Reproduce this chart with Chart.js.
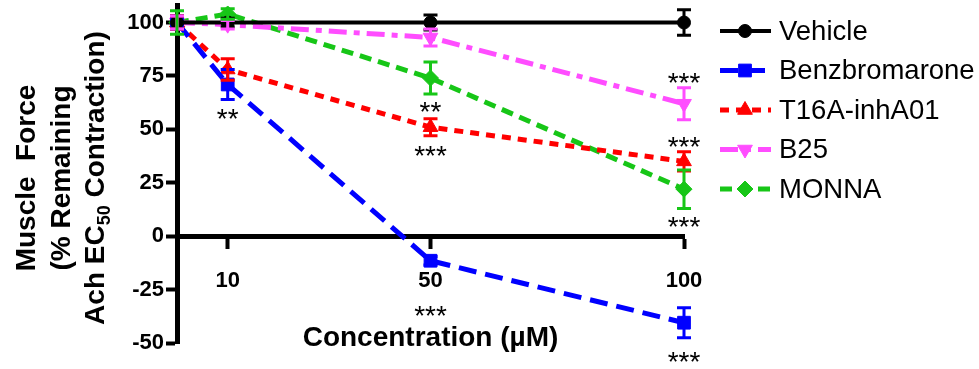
<!DOCTYPE html>
<html>
<head>
<meta charset="utf-8">
<script src="https://cdn.jsdelivr.net/npm/chart.js@4.4.1/dist/chart.umd.min.js"></script>
<style>
  html, body { margin: 0; padding: 0; background: #fff; }
</style>
</head>
<body>
<canvas id="myChart" width="979" height="369"></canvas>
<script>
// concentrations (uM) and tick values
const concentrations = [0, 10, 50, 100];
const xTicks = [10, 50, 100];
const yTicks = [-50, -25, 0, 25, 50, 75, 100];

// % remaining force, mean and error
const vehicle = [100, 100, 100, 100];
const vehicleErr = [3, 2, 3.5, 6];
const benzbromarone = [100, 71, -11.5, -40.5];
const benzbromaroneErr = [3, 7, 2, 7];
const t16a = [100, 78, 51, 35];
const t16aErr = [3, 5, 4, 4.5];
const b25 = [100, 99, 93, 62];
const b25Err = [3, 2, 4, 7.5];
const monna = [100, 104, 74, 22];
const monnaErr = [5.5, 2.5, 7.5, 9];

// significance marks
const starX = [10, 50, 50, 50, 100, 100, 100, 100];
const starY = [57, 60.5, 40, -35, 74, 44, 6.5, -56.5];
const starText = ['**', '**', '***', '***', '***', '***', '***', '***'];

const FONT = 'Liberation Sans, Arial, sans-serif';

function pts(values) {
  return concentrations.map((x, i) => ({ x: x, y: values[i] }));
}

function makeSet(label, values, errs, color, dash, style, radius, rot, width) {
  return {
    label: label,
    data: pts(values),
    errors: errs,
    borderColor: color,
    backgroundColor: color,
    borderWidth: width,
    borderDash: dash,
    pointStyle: style,
    pointRadius: radius,
    pointRotation: rot,
    pointBorderWidth: 1,
    tension: 0,
    clip: false
  };
}

const datasets = [
  makeSet('Vehicle', vehicle, vehicleErr, '#000000', [], 'circle', 6.5, 0, 4),
  makeSet('Benzbromarone', benzbromarone, benzbromaroneErr, '#0000ff', [18, 9], 'rect', 9, 0, 5),
  makeSet('T16A-inhA01', t16a, t16aErr, '#ff0000', [9, 7], 'triangle', 8.5, 0, 5),
  makeSet('B25', b25, b25Err, '#ff4dff', [18, 7, 6, 7], 'triangle', 8.5, 180, 5),
  makeSet('MONNA', monna, monnaErr, '#17c617', [12, 7], 'rectRot', 8, 0, 5)
];

const errorBars = {
  id: 'errorBars',
  afterDatasetsDraw(chart) {
    const ctx = chart.ctx;
    const xs = chart.scales.x, ys = chart.scales.y;
    chart.data.datasets.forEach(ds => {
      ctx.save();
      ctx.strokeStyle = ds.borderColor;
      ctx.lineWidth = 3;
      ds.data.forEach((p, i) => {
        const e = ds.errors[i];
        const px = xs.getPixelForValue(p.x);
        const top = ys.getPixelForValue(p.y + e);
        const bot = ys.getPixelForValue(p.y - e);
        ctx.beginPath();
        ctx.moveTo(px, top); ctx.lineTo(px, bot);
        ctx.moveTo(px - 7, top); ctx.lineTo(px + 7, top);
        ctx.moveTo(px - 7, bot); ctx.lineTo(px + 7, bot);
        ctx.stroke();
      });
      ctx.restore();
    });
  }
};

const extras = {
  id: 'extras',
  afterDraw(chart) {
    const ctx = chart.ctx;
    const xs = chart.scales.x, ys = chart.scales.y;
    const area = chart.chartArea;

    // stars
    ctx.save();
    ctx.fillStyle = '#000';
    ctx.font = '28px ' + FONT;
    ctx.textAlign = 'center';
    ctx.textBaseline = 'alphabetic';
    starX.forEach((x, i) => {
      ctx.fillText(starText[i], xs.getPixelForValue(x), ys.getPixelForValue(starY[i]) + 14);
    });
    ctx.restore();

    // x title
    ctx.save();
    ctx.fillStyle = '#000';
    ctx.font = 'bold 28px ' + FONT;
    ctx.textAlign = 'center';
    ctx.textBaseline = 'middle';
    ctx.fillText('Concentration (\u00b5M)', (area.left + area.right) / 2, 338);
    ctx.restore();

    // y title, three rotated lines, subscript in the last one
    ctx.save();
    ctx.fillStyle = '#000';
    ctx.textBaseline = 'alphabetic';
    const cy = 178;
    const big = 'bold 28px ' + FONT, small = 'bold 18px ' + FONT;
    [['Muscle  Force', 35], ['(% Remaining', 70]].forEach(([t, bx]) => {
      ctx.save();
      ctx.translate(bx, cy);
      ctx.rotate(-Math.PI / 2);
      ctx.font = big;
      ctx.textAlign = 'center';
      ctx.fillText(t, 0, 0);
      ctx.restore();
    });
    ctx.save();
    ctx.translate(104, cy);
    ctx.rotate(-Math.PI / 2);
    ctx.font = big;
    const a = 'Ach EC', c = ' Contraction)';
    const wa = ctx.measureText(a).width, wc = ctx.measureText(c).width;
    ctx.font = small;
    const wb = ctx.measureText('50').width;
    let x0 = -(wa + wb + wc) / 2;
    ctx.textAlign = 'left';
    ctx.font = big;
    ctx.fillText(a, x0, 0);
    ctx.font = small;
    ctx.fillText('50', x0 + wa, 6);
    ctx.font = big;
    ctx.fillText(c, x0 + wa + wb, 0);
    ctx.restore();
    ctx.restore();

    // legend: line sample with marker
    chart.data.datasets.forEach((ds, i) => {
      const ly = 31 + i * 39.5;
      ctx.save();
      ctx.strokeStyle = ds.borderColor;
      ctx.fillStyle = ds.borderColor;
      ctx.lineWidth = ds.borderWidth;
      ctx.setLineDash(ds.borderDash);
      ctx.beginPath();
      ctx.moveTo(720, ly); ctx.lineTo(771, ly);
      ctx.stroke();
      ctx.setLineDash([]);
      ctx.lineWidth = 1;
      Chart.helpers.drawPoint(ctx, {
        pointStyle: ds.pointStyle, radius: ds.pointRadius,
        rotation: ds.pointRotation, borderWidth: 1
      }, 745, ly);
      ctx.fillStyle = '#000';
      ctx.font = '27.5px ' + FONT;
      ctx.textAlign = 'left';
      ctx.textBaseline = 'middle';
      ctx.fillText(ds.label, 779, ly + 1);
      ctx.restore();
    });
  }
};

const config = {
  type: 'line',
  data: { datasets: datasets },
  options: {
    responsive: false,
    animation: false,
    layout: { autoPadding: false, padding: { top: 5, right: 295, bottom: 26, left: 0 } },
    plugins: { legend: { display: false }, tooltip: { enabled: false } },
    scales: {
      x: {
        type: 'linear',
        min: 0,
        max: 100,
        position: { y: 0 },
        afterBuildTicks: s => { s.ticks = xTicks.map(v => ({ value: v })); },
        afterFit: s => { s.height = 0; s.paddingLeft = 0; s.paddingRight = 0; },
        ticks: {
          autoSkip: false, maxRotation: 0, padding: 22, color: '#000',
          font: { family: FONT, size: 22, weight: 'bold' }
        },
        grid: { drawOnChartArea: false, drawTicks: true, tickLength: 10, tickWidth: 4, tickColor: '#000' },
        border: { display: true, width: 5, color: '#000' }
      },
      y: {
        type: 'linear',
        min: -50,
        max: 108.2,
        afterBuildTicks: s => { s.ticks = yTicks.map(v => ({ value: v })); },
        afterFit: s => { s.width = 177; s.paddingTop = 0; s.paddingBottom = 0; },
        ticks: {
          padding: 2, color: '#000',
          font: { family: FONT, size: 22, weight: 'bold' }
        },
        grid: { drawOnChartArea: false, drawTicks: true, tickLength: 11, tickWidth: 4, tickColor: '#000' },
        border: { display: true, width: 5, color: '#000' }
      }
    }
  },
  plugins: [errorBars, extras]
};

const myChart = new Chart(document.getElementById('myChart'), config);
</script>
</body>
</html>
